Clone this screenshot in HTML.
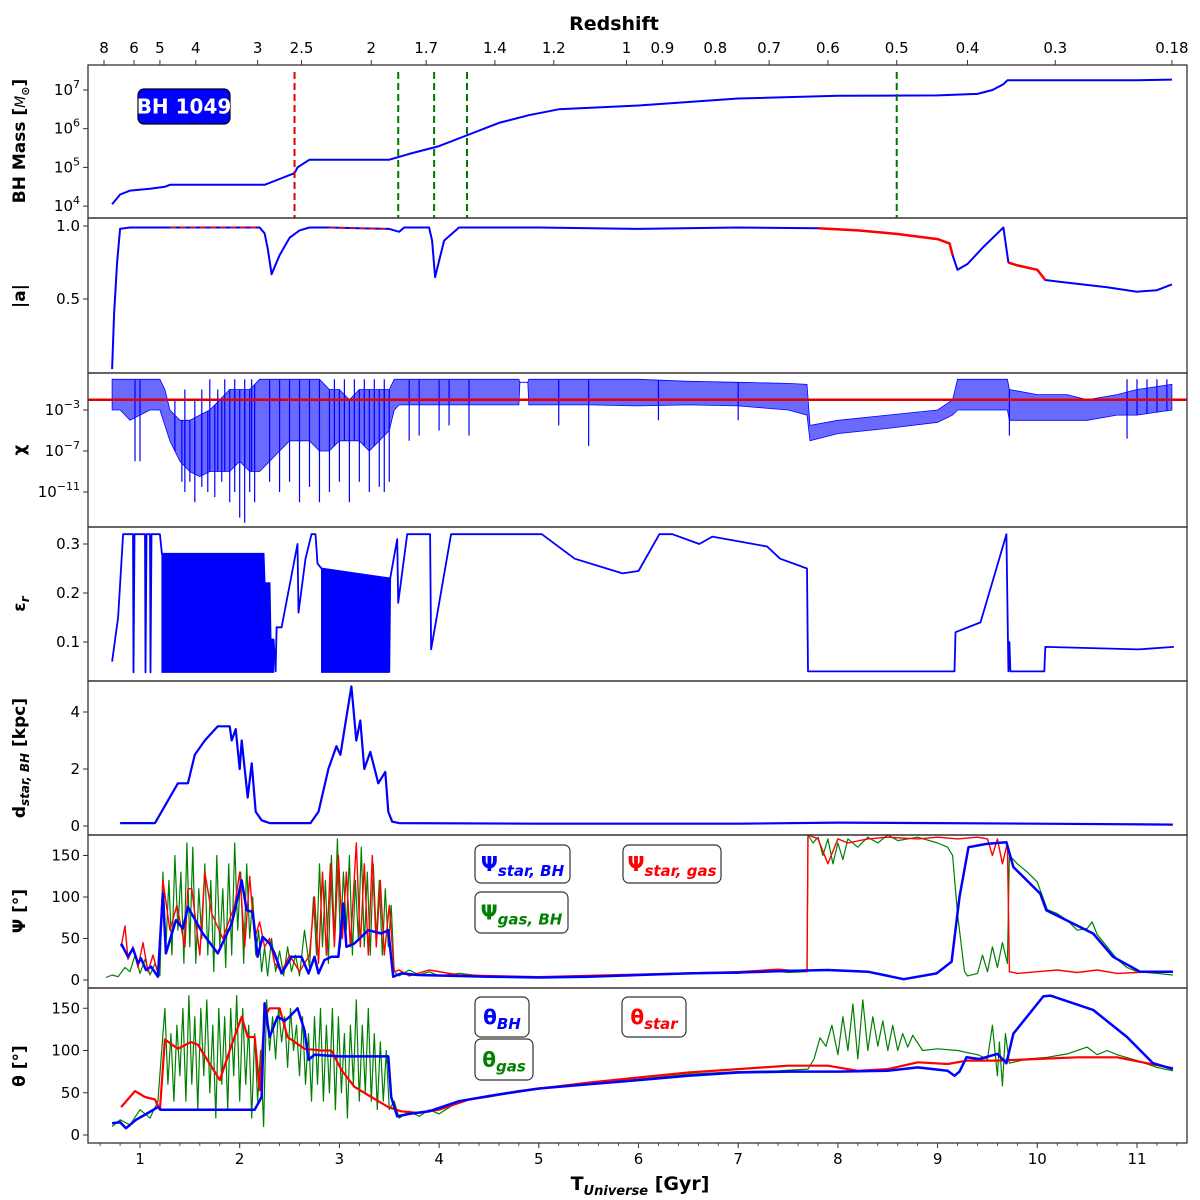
<!DOCTYPE html>
<html><head><meta charset="utf-8"><style>
html,body{margin:0;padding:0;background:#fff}
svg{display:block;font-family:"DejaVu Sans","Liberation Sans",sans-serif}
</style></head><body>
<svg id="fig" width="1200" height="1200" viewBox="0 0 1200 1200" xmlns="http://www.w3.org/2000/svg">
<defs id="defs"></defs>
<g id="plots"></g>
<g id="frames"></g>
<g id="labels"></g>
</svg>
<script>
// ---------- data ----------
const zLabels=["8","6","5","4","3","2.5","2","1.7","1.4","1.2","1","0.9","0.8","0.7","0.6","0.5","0.4","0.3","0.18"];
const zAges=[0.639,0.94,1.20,1.56,2.18,2.62,3.32,3.87,4.56,5.15,5.88,6.24,6.77,7.31,7.90,8.59,9.30,10.18,11.35];
const tTicks=[1,2,3,4,5,6,7,8,9,10,11];

const massT=[0.72,0.8,0.9,1.1,1.25,1.3,2.25,2.4,2.5,2.55,2.58,2.7,3.0,3.5,3.7,4.0,4.3,4.6,4.9,5.2,6,7,8,9.0,9.4,9.55,9.66,9.7,10,11,11.35];
const massLog=[4.05,4.3,4.4,4.45,4.5,4.55,4.55,4.7,4.8,4.85,5.0,5.2,5.2,5.2,5.35,5.55,5.85,6.15,6.35,6.5,6.6,6.78,6.85,6.86,6.9,7.0,7.15,7.25,7.25,7.25,7.27];
const mergerRed=[2.55];
const mergerGreen=[3.59,3.95,4.28,8.59];

const spinT=[0.72,0.74,0.77,0.8,0.9,1.3,1.8,2.2,2.25,2.28,2.32,2.4,2.5,2.6,2.7,2.9,3.2,3.5,3.6,3.65,3.9,3.93,3.96,4.05,4.2,5,6,7,7.8,8.2,8.6,9.0,9.12,9.15,9.2,9.3,9.45,9.6,9.66,9.71,9.8,10.0,10.08,10.2,10.7,11.0,11.2,11.35];
const spinV=[0.02,0.4,0.75,0.98,0.99,0.99,0.99,0.99,0.95,0.85,0.67,0.8,0.92,0.97,0.99,0.99,0.985,0.98,0.96,0.99,0.99,0.9,0.65,0.9,0.99,0.99,0.98,0.99,0.985,0.97,0.945,0.91,0.88,0.8,0.70,0.74,0.85,0.95,0.99,0.75,0.73,0.70,0.63,0.62,0.58,0.55,0.56,0.60];
const spinRedStart=[1.3,2.9,7.8,9.71];
const spinRedEnd=[2.2,3.5,9.15,10.08];

const chiT=[0.72,0.8,0.9,1.0,1.1,1.2,1.25,1.3,1.4,1.5,1.6,1.7,1.8,1.9,2.0,2.1,2.2,2.3,2.4,2.5,2.6,2.7,2.8,2.9,3.0,3.1,3.2,3.3,3.4,3.5,3.55,3.6,4.0,4.4,4.8,4.81,4.89,4.9,5.5,6.0,6.5,7.0,7.5,7.69,7.72,8.0,8.5,9.0,9.15,9.2,9.7,9.72,10.0,10.3,10.5,10.8,11.0,11.35];
const chiHi=[0,0,0,0,0,0,-1,-3,-4,-4,-3.5,-3,-2,-1,-1,-1,0,0,0,0,0,0,0,-1,-1,-2,-1,-1,-1,-1,0,0,0,0,0,-0.3,-0.3,0,0,0,-0.2,-0.3,-0.4,-0.5,-4.5,-4,-3.5,-3,-2,0,0,-1,-1.5,-1.5,-2,-1.5,-1,-0.5];
const chiLo=[-3,-3,-4,-3.5,-3,-3,-4.5,-6,-8,-9,-9.5,-9,-9,-9,-8,-9,-9,-8,-7,-6,-6,-6,-7,-7,-6,-6,-6,-7,-6,-5,-3,-2.5,-2.5,-2.5,-2.5,-0.3,-0.3,-2.5,-2.5,-2.6,-2.5,-2.6,-3,-3.5,-6,-5.3,-4.8,-4.2,-3.5,-3,-3,-4,-4,-4,-4,-3.5,-3.5,-3];
const chiSpikeT=[0.95,1.0,1.35,1.42,1.45,1.5,1.55,1.62,1.68,1.75,1.82,1.9,1.95,2.0,2.05,2.1,2.15,2.3,2.4,2.5,2.6,2.7,2.8,2.9,3.0,3.1,3.2,3.3,3.4,3.45,3.5,3.7,3.8,4.0,4.1,4.3,5.2,5.5,6.2,7.0,9.72,10.9];
const chiSpikeLo=[-8,-8,-7,-10,-11,-10,-12,-10.5,-11,-11.5,-10,-12,-11,-13.5,-14,-11,-12,-10,-11,-10,-12,-10.5,-12,-11,-10,-12,-10,-11,-10.5,-11,-10,-6,-5.5,-5,-4.5,-5.5,-4.5,-6.5,-4,-4,-5.5,-5.8];
const chiUpT=[1.35,1.45,1.55,1.62,1.7,1.78,1.85,1.95,2.05,2.12,2.95,3.05,3.15,3.25,3.35,3.45,10.9,11.0,11.1,11.2,11.3];
const chiUpHi=[-2,-1,-2,-1,0,-1,0,0,0,0,0,0,0,0,0,0,0,0,0,0,0];
const chiCrit=-2;

const epsT=[0.72,0.78,0.83,0.93,0.935,0.945,1.05,1.055,1.065,1.10,1.105,1.115,1.2,1.22,2.24,2.25,2.30,2.31,2.34,2.36,2.37,2.42,2.58,2.59,2.66,2.72,2.76,2.78,2.82,3.5,3.5,3.51,3.58,3.59,3.68,3.91,3.92,4.12,5.03,5.36,5.68,5.84,6.0,6.21,6.34,6.61,6.74,7.29,7.42,7.69,7.70,9.17,9.18,9.43,9.59,9.69,9.71,9.72,9.73,10.07,10.08,11.01,11.37];
const epsV=[0.06,0.15,0.32,0.32,0.038,0.32,0.32,0.038,0.32,0.32,0.038,0.32,0.32,0.28,0.28,0.22,0.22,0.105,0.105,0.04,0.13,0.13,0.30,0.16,0.27,0.32,0.32,0.26,0.25,0.23,0.04,0.23,0.31,0.18,0.32,0.32,0.085,0.32,0.32,0.27,0.25,0.24,0.245,0.32,0.32,0.30,0.315,0.295,0.27,0.25,0.04,0.04,0.12,0.14,0.25,0.32,0.04,0.10,0.04,0.04,0.09,0.085,0.09];
const epsBandT=[1.22,2.24,2.25,2.30,2.31,2.34];
const epsBandTop=[0.28,0.28,0.22,0.22,0.105,0.105];
const epsBand2T=[2.82,3.5];
const epsBand2Top=[0.25,0.23];
const epsFloor=0.038;

const distT=[0.80,1.15,1.20,1.38,1.48,1.55,1.65,1.78,1.90,1.92,1.96,2.00,2.02,2.08,2.12,2.16,2.22,2.30,2.71,2.79,2.89,2.97,3.01,3.06,3.12,3.17,3.21,3.25,3.31,3.39,3.46,3.49,3.53,3.6,5,7,8,9,10,11.36];
const distV=[0.1,0.1,0.4,1.5,1.5,2.5,3.0,3.5,3.5,3.0,3.4,2.0,3.0,1.0,2.2,0.5,0.2,0.1,0.1,0.5,2.0,2.8,2.5,3.6,4.9,3.0,3.7,2.0,2.6,1.5,1.9,0.5,0.15,0.1,0.08,0.08,0.12,0.1,0.08,0.05];

const psiBHT=[0.81,0.88,0.93,0.98,1.01,1.06,1.11,1.18,1.23,1.26,1.36,1.43,1.48,1.63,1.78,1.92,2.02,2.07,2.13,2.18,2.23,2.30,2.35,2.42,2.52,2.62,2.69,2.75,2.79,2.85,2.92,2.99,3.04,3.07,3.15,3.29,3.42,3.49,3.54,3.62,3.79,4.5,5,5.5,6,6.5,7,7.5,7.9,8.3,8.66,8.99,9.14,9.22,9.31,9.49,9.69,9.76,10.03,10.09,10.56,10.76,11.03,11.36];
const psiBHV=[44,28,38,20,26,12,16,4,104,32,72,62,88,56,32,68,120,84,82,28,52,44,32,8,28,28,8,28,8,24,28,28,92,40,44,60,56,60,4,8,6,4,3,4,6,8,9,11,12,10,1,8,22,100,160,164,166,136,104,84,56,28,10,10];
const psiGasT=[0.66,0.72,0.78,0.85,0.9,0.95,1.0,1.05,1.1,1.15,1.2,1.23,1.26,1.29,1.32,1.35,1.38,1.41,1.44,1.47,1.50,1.53,1.56,1.59,1.62,1.65,1.68,1.71,1.74,1.77,1.80,1.83,1.86,1.89,1.92,1.95,1.98,2.01,2.04,2.07,2.10,2.13,2.16,2.19,2.22,2.25,2.28,2.32,2.36,2.40,2.44,2.48,2.52,2.56,2.60,2.65,2.70,2.74,2.77,2.80,2.83,2.86,2.89,2.92,2.95,2.98,3.01,3.04,3.07,3.10,3.13,3.16,3.19,3.22,3.25,3.28,3.31,3.34,3.37,3.40,3.43,3.46,3.49,3.52,3.55,3.6,3.7,3.8,3.9,4.0,4.2,4.5,5,5.5,6,6.5,7,7.3,7.5,7.69,7.70,7.75,7.8,7.85,7.9,7.95,8.0,8.05,8.1,8.2,8.3,8.4,8.5,8.6,8.8,9.0,9.1,9.15,9.2,9.27,9.3,9.4,9.45,9.5,9.55,9.6,9.65,9.7,9.72,9.8,9.9,10.0,10.1,10.2,10.3,10.4,10.5,10.55,10.6,10.7,10.8,10.9,11.0,11.2,11.36];
const psiGasV=[3,6,4,15,10,30,8,25,6,20,5,130,40,120,30,150,60,130,20,165,40,160,20,110,50,140,30,120,10,150,40,110,15,140,30,165,60,130,20,140,50,100,30,60,10,40,5,50,10,35,5,40,10,30,5,60,15,100,30,140,40,120,20,150,50,170,40,130,60,150,30,120,50,160,40,130,30,140,50,120,30,110,40,90,10,5,12,6,10,5,8,4,3,5,6,8,8,12,9,10,175,165,172,150,170,140,165,145,170,160,172,165,175,168,172,165,160,150,80,10,5,8,30,10,40,15,45,20,150,140,130,118,85,80,72,60,62,70,55,40,25,15,10,8,6];
const psiSGT=[0.81,0.85,0.88,0.93,0.98,1.03,1.08,1.13,1.18,1.23,1.3,1.37,1.45,1.48,1.52,1.6,1.65,1.72,1.83,1.95,2.0,2.05,2.1,2.15,2.2,2.25,2.3,2.35,2.42,2.5,2.6,2.7,2.75,2.79,2.83,2.87,2.91,2.95,2.99,3.03,3.07,3.11,3.17,3.21,3.25,3.29,3.33,3.37,3.41,3.45,3.5,3.55,3.6,3.7,3.9,4.2,5,6,7,7.4,7.69,7.70,7.8,7.9,8.0,8.1,8.3,8.5,8.8,9.0,9.2,9.4,9.5,9.55,9.6,9.65,9.7,9.72,9.8,10,10.2,10.4,10.6,10.8,11.0,11.2,11.36];
const psiSGV=[40,65,25,40,15,45,10,30,8,120,60,90,40,110,110,30,130,80,50,90,130,40,125,50,70,40,50,20,10,30,10,30,100,20,130,30,140,40,150,50,130,40,165,40,140,30,150,40,120,30,90,10,12,5,12,6,4,7,10,13,10,175,170,140,170,165,170,172,170,172,170,172,170,150,170,140,165,10,8,10,12,9,12,8,9,10,10];

const thBHT=[0.72,0.8,0.86,0.96,1.08,1.18,1.21,2.15,2.22,2.25,2.30,2.38,2.45,2.50,2.58,2.65,2.69,2.75,3.0,3.49,3.52,3.58,3.7,3.9,4.2,4.6,5.0,5.5,6.0,6.5,7.0,7.5,8.0,8.5,8.8,9.1,9.17,9.22,9.29,9.42,9.6,9.69,9.76,10.06,10.13,10.56,10.9,11.16,11.36];
const thBHV=[14,15,8,18,26,33,30,30,45,156,116,140,135,140,150,124,89,95,93,93,45,22,25,28,40,48,55,60,65,70,74,75,75,76,80,76,70,75,92,90,96,85,120,164,165,148,116,85,78];
const thStarT=[0.81,0.95,1.05,1.15,1.2,1.25,1.38,1.51,1.58,1.8,1.92,2.02,2.08,2.15,2.2,2.25,2.3,2.4,2.48,2.65,2.82,2.92,3.02,3.15,3.32,3.49,3.62,3.79,4.0,4.3,4.8,5.5,6.0,6.5,7.0,7.5,7.9,8.2,8.5,8.8,9.1,9.3,9.6,10.0,10.4,10.8,11.1,11.36];
const thStarV=[33,52,45,42,30,113,102,110,107,65,107,140,116,116,53,140,150,150,116,102,100,100,77,57,45,33,28,26,30,42,52,62,68,74,78,82,82,76,78,86,84,88,88,90,92,92,85,79];
const thGasT=[0.72,0.8,0.9,1.0,1.1,1.18,1.25,1.28,1.31,1.34,1.37,1.40,1.43,1.46,1.49,1.52,1.55,1.58,1.61,1.64,1.67,1.70,1.73,1.76,1.79,1.82,1.85,1.88,1.91,1.94,1.97,2.00,2.03,2.06,2.09,2.12,2.15,2.18,2.21,2.24,2.27,2.30,2.33,2.36,2.39,2.42,2.45,2.48,2.51,2.54,2.57,2.60,2.63,2.66,2.69,2.72,2.75,2.78,2.81,2.84,2.87,2.90,2.93,2.96,2.99,3.02,3.05,3.08,3.11,3.14,3.17,3.20,3.23,3.26,3.29,3.32,3.35,3.38,3.41,3.44,3.47,3.50,3.55,3.6,3.7,3.8,3.9,4.0,4.2,4.5,5,5.5,6,6.5,7.0,7.4,7.7,7.76,7.82,7.88,7.94,8.0,8.05,8.1,8.15,8.2,8.25,8.3,8.35,8.4,8.45,8.5,8.55,8.6,8.65,8.7,8.75,8.85,9.0,9.2,9.4,9.5,9.55,9.6,9.62,9.65,9.68,9.72,9.9,10.1,10.3,10.5,10.6,10.7,10.8,11.0,11.2,11.36];
const thGasV=[10,18,12,30,20,40,150,60,120,40,130,70,150,40,165,60,140,30,150,70,160,50,130,20,150,60,140,30,150,70,165,40,150,60,130,20,120,40,100,10,160,100,140,90,150,110,140,80,150,100,130,70,140,60,120,40,140,60,150,40,130,50,150,30,140,50,120,20,130,60,160,40,130,50,150,40,120,30,110,40,100,30,40,20,28,22,30,25,40,45,55,60,66,72,75,76,78,90,115,105,130,95,140,100,155,90,160,100,140,105,135,100,130,100,120,104,118,100,102,100,95,90,130,70,110,58,120,85,90,92,96,104,95,100,95,88,80,76];

// ---------- geometry ----------
const L=88,R=1187;
const X=t=>140+(t-1)*99.7;
const panels=[[65,218],[218,373],[373,527],[527,681],[681,835],[835,988],[988,1143]];
const yMass=v=>90-(v-7)*38.7;
const ySpin=v=>226-(v-1)*146;
const yChi=v=>410-(v+3)*10.25;
const yEps=v=>593-(v-0.2)*490;
const yDist=v=>826-v*28.5;
const yPsi=v=>980-v*0.83;
const yTh=v=>1135-v*0.845;

const NS="http://www.w3.org/2000/svg";
const svg=document.getElementById('fig');
const plots=document.getElementById('plots');
const frames=document.getElementById('frames');
const labels=document.getElementById('labels');
const defs=document.getElementById('defs');
function mk(tag,attrs,parent){const e=document.createElementNS(NS,tag);for(const k in attrs)e.setAttribute(k,attrs[k]);(parent||svg).appendChild(e);return e;}

const groups=[];
panels.forEach((p,i)=>{
  const cp=mk('clipPath',{id:'cp'+i},defs);
  mk('rect',{x:L,y:p[0],width:R-L,height:p[1]-p[0]},cp);
  const g=mk('g',{'clip-path':'url(#cp'+i+')'},plots);
  
  
  groups.push(g);
});

function pts(T,V,yf){return T.map((t,i)=>X(t).toFixed(1)+','+yf(V[i]).toFixed(1)).join(' ');}
function line(g,T,V,yf,color,w,name){
  const e=mk('polyline',{points:pts(T,V,yf),fill:'none',stroke:color,'stroke-width':w,'stroke-linejoin':'round'},g);
  
  
  return e;
}
function interp(T,V,t){for(let i=1;i<T.length;i++){if(t<=T[i]){const f=(t-T[i-1])/(T[i]-T[i-1]||1);return V[i-1]+f*(V[i]-V[i-1]);}}return V[V.length-1];}

// ---- panel 1 mass ----
line(groups[0],massT,massLog,yMass,'#0000ff',2,'bh-mass-line');
mergerRed.forEach(t=>{const e=mk('line',{x1:X(t),x2:X(t),y1:72,y2:218,stroke:'#e00000','stroke-width':2,'stroke-dasharray':'7,4'},groups[0]);
 });
mergerGreen.forEach(t=>{const e=mk('line',{x1:X(t),x2:X(t),y1:72,y2:218,stroke:'#007800','stroke-width':2,'stroke-dasharray':'7,4'},groups[0]);
 });

// ---- panel 2 spin ----
line(groups[1],spinT,spinV,ySpin,'#0000ff',2,'spin-line');
spinRedStart.forEach((s,k)=>{
  const en=spinRedEnd[k];const T=[s],V=[interp(spinT,spinV,s)];
  spinT.forEach((t,i)=>{if(t>s&&t<en){T.push(t);V.push(spinV[i]);}});
  T.push(en);V.push(interp(spinT,spinV,en));
  const e=line(groups[1],T,V,ySpin,'#ff0000',k<2?1.5:2.5,'spin-red-segment');
  if(k<2)e.setAttribute('stroke-dasharray','6,4');
});

// ---- panel 3 chi ----
{
  let up=chiT.map((t,i)=>X(t).toFixed(1)+','+yChi(chiHi[i]).toFixed(1));
  let lo=chiT.map((t,i)=>X(t).toFixed(1)+','+yChi(chiLo[i]).toFixed(1)).reverse();
  const e=mk('polygon',{points:up.concat(lo).join(' '),fill:'#1a1aff','fill-opacity':0.65,stroke:'#0000ff','stroke-width':0.8},groups[2]);
  
  chiSpikeT.forEach((t,i)=>{
    const s=mk('line',{x1:X(t),x2:X(t),y1:yChi(interp(chiT,chiHi,t)),y2:yChi(chiSpikeLo[i]),stroke:'#0000ff','stroke-width':1.2},groups[2]);
    
  });
  chiUpT.forEach((t,i)=>{
    const s=mk('line',{x1:X(t),x2:X(t),y1:yChi(interp(chiT,chiLo,t)),y2:yChi(chiUpHi[i]),stroke:'#0000ff','stroke-width':1.2},groups[2]);
    
  });
  const c=mk('line',{x1:L,x2:R,y1:yChi(chiCrit),y2:yChi(chiCrit),stroke:'#e00000','stroke-width':2.5},groups[2]);
  
}

// ---- panel 4 eps ----
[[epsBandT,epsBandTop],[epsBand2T,epsBand2Top]].forEach(([T,V])=>{
  const p=pts(T,V,yEps)+' '+X(T[T.length-1]).toFixed(1)+','+yEps(epsFloor)+' '+X(T[0]).toFixed(1)+','+yEps(epsFloor);
  const e=mk('polygon',{points:p,fill:'#0000ff',stroke:'#0000ff','stroke-width':1},groups[3]);
  
});
line(groups[3],epsT,epsV,yEps,'#0000ff',1.8,'radiative-efficiency-line');

// ---- panel 5 distance ----
line(groups[4],distT,distV,yDist,'#0000ff',2.2,'distance-line');

// ---- panel 6 psi ----
line(groups[5],psiGasT,psiGasV,yPsi,'#008000',1.2,'psi-gas-bh-line');
line(groups[5],psiSGT,psiSGV,yPsi,'#ff0000',1.4,'psi-star-gas-line');
line(groups[5],psiBHT,psiBHV,yPsi,'#0000ff',2.5,'psi-star-bh-line');

// ---- panel 7 theta ----
line(groups[6],thGasT,thGasV,yTh,'#008000',1.2,'theta-gas-line');
line(groups[6],thStarT,thStarV,yTh,'#ff0000',2.2,'theta-star-line');
line(groups[6],thBHT,thBHV,yTh,'#0000ff',2.5,'theta-bh-line');

// ---------- frames & ticks ----------
panels.forEach((p,i)=>{
  const r=mk('rect',{x:L,y:p[0],width:R-L,height:p[1]-p[0],fill:'none',stroke:'#333','stroke-width':1.3},frames);
  
});
function txt(x,y,s,opt){const o=Object.assign({'font-size':15,'text-anchor':'middle',fill:'#000'},opt||{});o.x=x;o.y=y;const e=mk('text',o,labels);e.innerHTML=s;return e;}
function ytick(y,s,name){mk('line',{x1:L-5,x2:L,y1:y,y2:y,stroke:'#333','stroke-width':1},frames);
  const e=txt(L-8,y+5,s,{'text-anchor':'end'});}
tTicks.forEach(t=>{mk('line',{x1:X(t),x2:X(t),y1:1143,y2:1148,stroke:'#333','stroke-width':1},frames);
  const e=txt(X(t),1164,String(t));});
for(let t=0.6;t<11.5;t+=0.2){const x=X(t);mk('line',{x1:x,x2:x,y1:1143,y2:1146,stroke:'#333','stroke-width':0.8},frames);}
zAges.forEach((t,i)=>{mk('line',{x1:X(t),x2:X(t),y1:60,y2:65,stroke:'#333','stroke-width':1},frames);
  const e=txt(X(t),53,zLabels[i]);});
[[4,'10<tspan dy="-7" font-size="11">4</tspan>'],[5,'10<tspan dy="-7" font-size="11">5</tspan>'],[6,'10<tspan dy="-7" font-size="11">6</tspan>'],[7,'10<tspan dy="-7" font-size="11">7</tspan>']].forEach(a=>ytick(yMass(a[0]),a[1],'mass-tick-label'));
[[0.5,'0.5'],[1.0,'1.0']].forEach(a=>ytick(ySpin(a[0]),a[1],'spin-tick-label'));
[[-3,'10<tspan dy="-7" font-size="11">−3</tspan>'],[-7,'10<tspan dy="-7" font-size="11">−7</tspan>'],[-11,'10<tspan dy="-7" font-size="11">−11</tspan>']].forEach(a=>ytick(yChi(a[0]),a[1],'chi-tick-label'));
[[0.1,'0.1'],[0.2,'0.2'],[0.3,'0.3']].forEach(a=>ytick(yEps(a[0]),a[1],'eps-tick-label'));
[[0,'0'],[2,'2'],[4,'4']].forEach(a=>ytick(yDist(a[0]),a[1],'distance-tick-label'));
[0,50,100,150].forEach(v=>ytick(yPsi(v),String(v),'psi-tick-label'));
[0,50,100,150].forEach(v=>ytick(yTh(v),String(v),'theta-tick-label'));
function ylab(yc,s,name){const e=txt(0,0,s,{'font-size':17,'font-weight':'bold',transform:'translate(25,'+yc+') rotate(-90)'});}
ylab(141,'BH Mass [<tspan font-style="italic" font-weight="normal" font-size="14">M</tspan><tspan font-size="11" dy="4">⊙</tspan><tspan dy="-4">]</tspan>','y-axis-title-mass');
ylab(296,'|a|','y-axis-title-spin');
ylab(450,'χ','y-axis-title-chi');
ylab(604,'ε<tspan font-size="12" dy="4" font-style="italic">r</tspan>','y-axis-title-eps');
ylab(758,'d<tspan font-size="12" dy="4" font-style="italic">star, BH</tspan><tspan dy="-4"> [kpc]</tspan>','y-axis-title-distance');
ylab(911,'Ψ [°]','y-axis-title-psi');
ylab(1066,'θ [°]','y-axis-title-theta');
{const e=txt(614,30,'Redshift',{'font-size':19,'font-weight':'bold'});}
{const e=txt(640,1190,'T<tspan font-size="13" dy="5" font-style="italic">Universe</tspan><tspan dy="-5"> [Gyr]</tspan>',{'font-size':19,'font-weight':'bold'});}

function box(x,y,w,h,fill,stroke,content,color,name){
  const g=mk('g',{},labels);
  mk('rect',{x:x,y:y,width:w,height:h,rx:6,fill:fill,stroke:stroke,'stroke-width':1.2},g);
  const t=mk('text',{x:x+w/2,y:y+h/2+7,'text-anchor':'middle','font-size':20,'font-weight':'bold',fill:color},g);t.innerHTML=content;
}
box(138,89,92,35,'#0000ff','#000','BH 1049','#fff','bh-id-label');
box(475,845,95,38,'#fff','#333','Ψ<tspan font-size="15" font-style="italic" dy="5">star, BH</tspan>','#0000ff','legend-psi-star-bh');
box(623,845,98,38,'#fff','#333','Ψ<tspan font-size="15" font-style="italic" dy="5">star, gas</tspan>','#ff0000','legend-psi-star-gas');
box(475,892,93,41,'#fff','#333','Ψ<tspan font-size="15" font-style="italic" dy="5">gas, BH</tspan>','#008000','legend-psi-gas-bh');
box(475,997,54,40,'#fff','#333','θ<tspan font-size="15" font-style="italic" dy="5">BH</tspan>','#0000ff','legend-theta-bh');
box(622,997,64,40,'#fff','#333','θ<tspan font-size="15" font-style="italic" dy="5">star</tspan>','#ff0000','legend-theta-star');
box(475,1039,58,41,'#fff','#333','θ<tspan font-size="15" font-style="italic" dy="5">gas</tspan>','#008000','legend-theta-gas');
</script>
</body></html>
